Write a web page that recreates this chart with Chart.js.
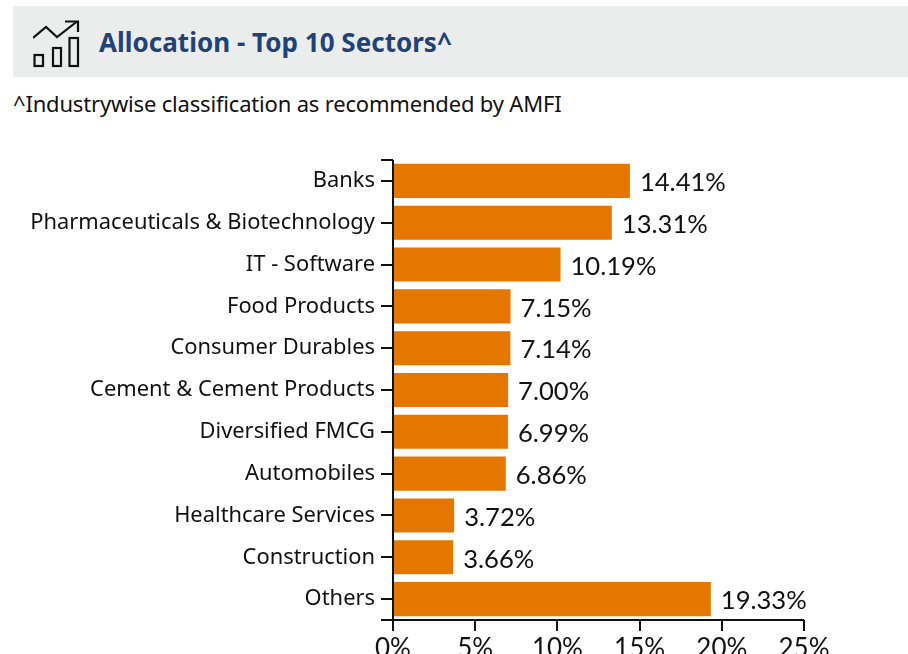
<!DOCTYPE html>
<html><head><meta charset="utf-8">
<script src="https://cdn.jsdelivr.net/npm/chart.js@4"></script>
<style>
html,body{margin:0;padding:0;background:#fff;overflow:hidden;width:908px;height:654px}
#hdr{position:absolute;left:13px;top:6px;width:895px;height:71px;background:#ebecec}
#hdr svg{position:absolute;left:20px;top:14px}
#ttl{position:absolute;left:86px;top:18px;font:bold 26px "Noto Sans";color:#1f4277;white-space:nowrap;letter-spacing:0.02px}
#sub{position:absolute;left:13px;top:88px;font:22px "Noto Sans";color:#111;white-space:nowrap;letter-spacing:-0.18px}
#c{position:absolute;left:0;top:0}
</style></head><body>
<div id="hdr">
<svg width="48" height="48" viewBox="0 0 48 48" fill="none" stroke="#111" stroke-width="2.2">
<path d="M0 18 L13 7 L24 17 L44 1.5"/><path d="M32 1.5 H45 V12"/>
<rect x="1.5" y="35" width="8.5" height="11"/><rect x="20" y="28" width="8" height="18"/><rect x="36.5" y="18" width="8.5" height="28"/>
</svg>
<div id="ttl">Allocation - Top 10 Sectors^</div>
</div>
<div id="sub">^Industrywise classification as recommended by AMFI</div>
<canvas id="c" width="908" height="654"></canvas>
<script>
const categories=["Banks","Pharmaceuticals & Biotechnology","IT - Software","Food Products","Consumer Durables","Cement & Cement Products","Diversified FMCG","Automobiles","Healthcare Services","Construction","Others"];
const values=[14.41,13.31,10.19,7.15,7.14,7.00,6.99,6.86,3.72,3.66,19.33];
const xTicks=[0,5,10,15,20,25];
const barColor="#e57600";
const extras={id:'extras',afterDatasetsDraw(chart){
  const {ctx,scales:{x,y},chartArea:a}=chart;
  ctx.save();
  ctx.fillStyle="#111";ctx.font='25.6px Lato';ctx.textBaseline='middle';ctx.textAlign='left';
  const meta=chart.getDatasetMeta(0);
  values.forEach((v,i)=>ctx.fillText(v.toFixed(2)+"%",x.getPixelForValue(v)+10,meta.data[i].y+2));
  ctx.strokeStyle="#111";ctx.lineWidth=2;ctx.beginPath();
  ctx.moveTo(381,a.top);ctx.lineTo(a.left,a.top);
  ctx.moveTo(a.left,a.top);ctx.lineTo(a.left,a.bottom);
  ctx.moveTo(381,a.bottom);ctx.lineTo(a.right,a.bottom);
  ctx.stroke();ctx.restore();
}};
new Chart(document.getElementById('c'),{
  type:'bar',
  data:{labels:categories,datasets:[{data:values,backgroundColor:barColor,categoryPercentage:1,barPercentage:0.815}]},
  plugins:[extras],
  options:{
    indexAxis:'y',responsive:false,animation:false,
    layout:{padding:{top:160,right:104,left:0,bottom:0}},
    plugins:{legend:{display:false},tooltip:{enabled:false}},
    scales:{
      x:{min:0,max:25,afterFit(s){s.height=34},
        afterBuildTicks(s){s.ticks=xTicks.map(v=>({value:v}))},
        grid:{drawOnChartArea:false,drawTicks:true,tickLength:11,color:"#111",lineWidth:2},
        border:{display:false},
        ticks:{color:"#111",font:{family:'Lato',size:26},padding:2,maxRotation:0,autoSkip:false,callback:v=>v+"%"}},
      y:{afterFit(s){s.width=393},
        grid:{offset:false,drawOnChartArea:false,drawTicks:true,tickLength:12,color:"#111",lineWidth:2},
        border:{display:false},
        ticks:{color:"#111",font:{family:'Noto Sans',size:21.9},padding:6,autoSkip:false}}
    }
  }
});
</script>
</body></html>
